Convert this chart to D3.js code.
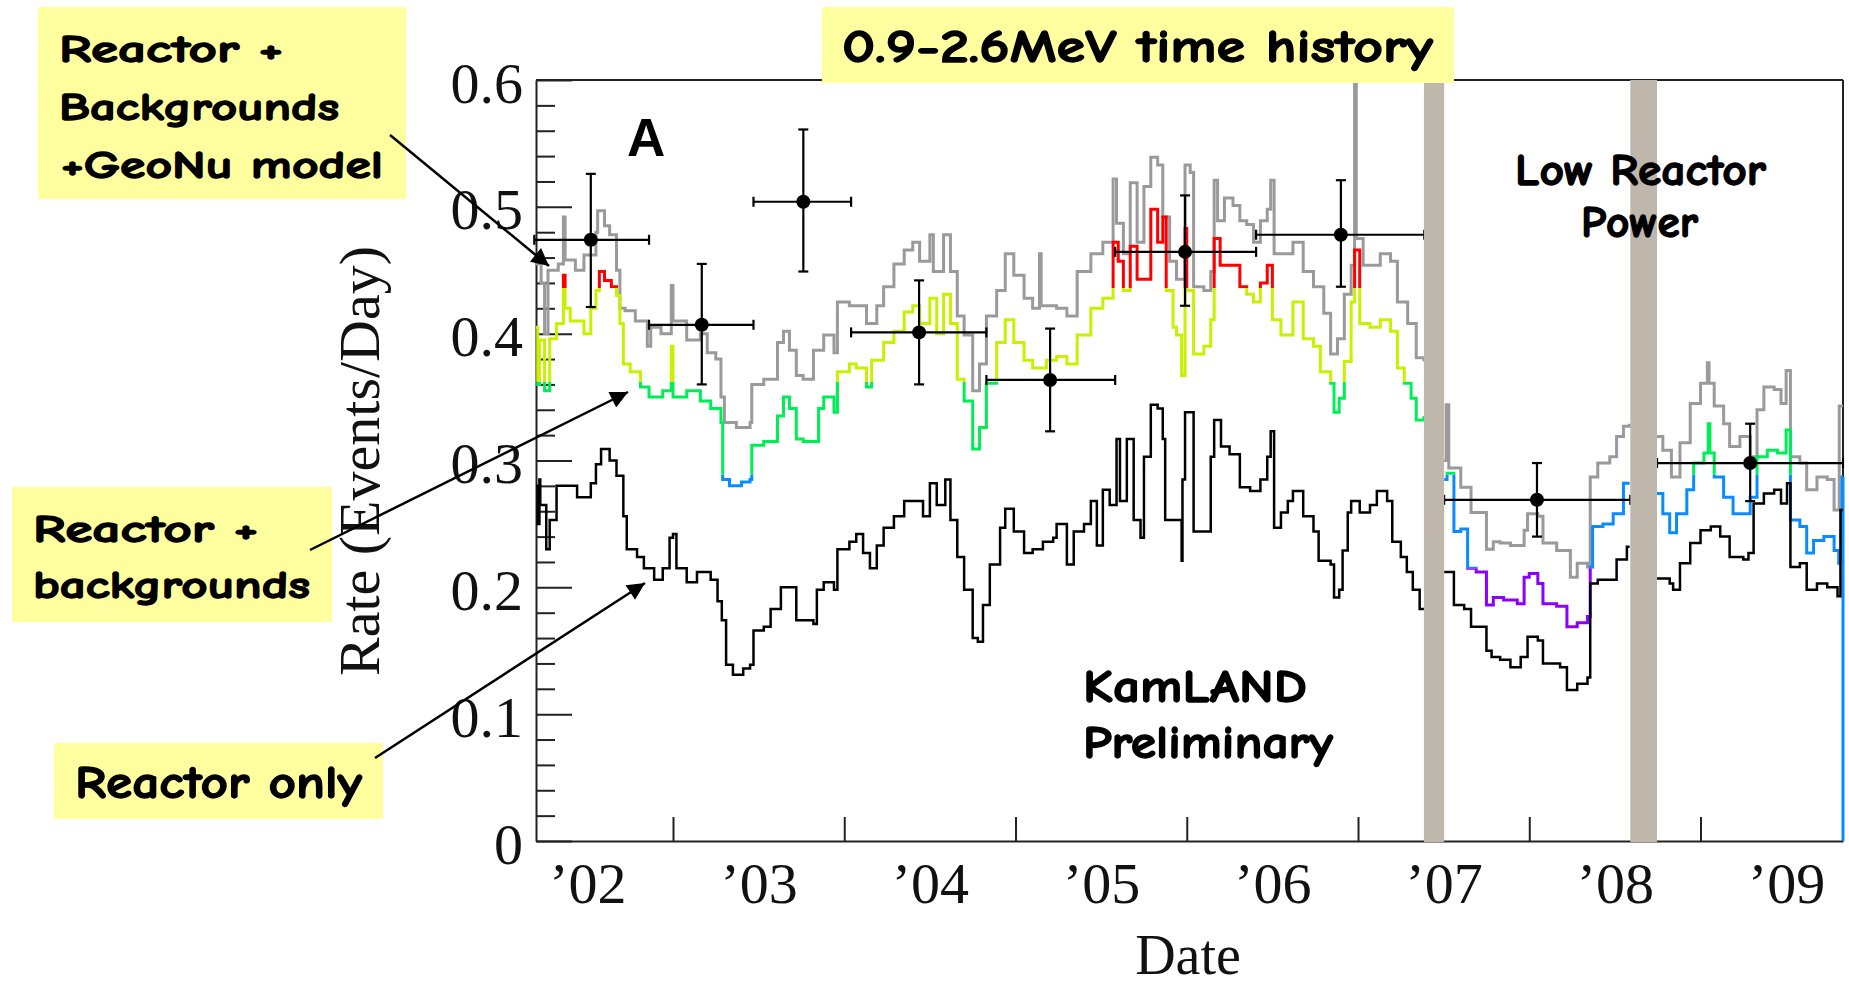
<!DOCTYPE html>
<html>
<head>
<meta charset="utf-8">
<script src="https://cdn.jsdelivr.net/npm/d3@7"></script>
<style>
body { margin:0; background:#fff; }
.comic { font-family:'Comic Sans MS','Comic Neue','DejaVu Sans',sans-serif; font-weight:bold; }
.serif { font-family:'Liberation Serif','Times New Roman',serif; }
</style>
</head>
<body>
<div class="canvas"></div>
<script>
const dims = {'width':1849, 'height':990};
const plot = {'left':536, 'right':1843, 'top':80, 'bottom':841};

// axis values
const yearTicks = [2003, 2004, 2005, 2006, 2007, 2008, 2009];
const yearLabels = [2002.5, 2003.5, 2004.5, 2005.5, 2006.5, 2007.5, 2008.5, 2009.5];
const rateTicks = [0, 0.1, 0.2, 0.3, 0.4, 0.5, 0.6];
const rateMinor = [0.02,0.04,0.06,0.08,0.12,0.14,0.16,0.18,0.22,0.24,0.26,0.28,
                   0.32,0.34,0.36,0.38,0.42,0.44,0.46,0.48,0.52,0.54,0.56,0.58];

// Reactor + backgrounds + GeoNu model (grey)
const geoNu = [
  [2002.20,0.455],[2002.23,0.440],[2002.25,0.400],[2002.27,0.450],[2002.33,0.455],[2002.36,0.492],
  [2002.37,0.458],[2002.43,0.450],[2002.48,0.462],[2002.55,0.480],[2002.56,0.497],[2002.60,0.485],
  [2002.63,0.478],[2002.67,0.450],[2002.69,0.420],[2002.72,0.418],[2002.78,0.410],[2002.85,0.390],
  [2002.87,0.405],[2002.93,0.400],[2002.99,0.438],[2003.00,0.410],[2003.08,0.395],[2003.16,0.400],
  [2003.20,0.385],[2003.25,0.380],[2003.28,0.350],[2003.30,0.330],[2003.37,0.326],[2003.45,0.330],
  [2003.46,0.360],[2003.53,0.364],[2003.61,0.393],[2003.645,0.402],[2003.68,0.387],[2003.72,0.367],
  [2003.76,0.364],[2003.82,0.387],[2003.88,0.399],[2003.94,0.385],[2003.96,0.425],[2004.03,0.422],
  [2004.13,0.408],[2004.19,0.422],[2004.23,0.437],[2004.29,0.455],[2004.35,0.466],[2004.40,0.472],
  [2004.44,0.457],[2004.50,0.478],[2004.52,0.449],[2004.58,0.478],[2004.62,0.449],[2004.66,0.414],
  [2004.70,0.399],[2004.75,0.355],[2004.79,0.376],[2004.83,0.414],[2004.89,0.434],[2004.94,0.463],
  [2004.99,0.446],[2005.05,0.428],[2005.10,0.420],[2005.14,0.463],[2005.15,0.422],[2005.24,0.420],
  [2005.30,0.414],[2005.36,0.449],[2005.44,0.463],[2005.51,0.472],[2005.57,0.522],[2005.59,0.487],
  [2005.63,0.463],[2005.67,0.519],[2005.71,0.472],[2005.75,0.516],[2005.79,0.539],[2005.83,0.533],
  [2005.86,0.492],[2005.90,0.457],[2005.94,0.443],[2005.99,0.533],[2006.02,0.527],[2006.04,0.437],
  [2006.10,0.434],[2006.14,0.449],[2006.16,0.521],[2006.18,0.489],[2006.22,0.507],[2006.27,0.501],
  [2006.31,0.489],[2006.35,0.486],[2006.39,0.472],[2006.43,0.489],[2006.47,0.498],[2006.49,0.521],
  [2006.51,0.463],[2006.57,0.463],[2006.62,0.472],[2006.68,0.449],[2006.74,0.437],[2006.80,0.416],
  [2006.84,0.384],[2006.88,0.396],[2006.92,0.431],[2006.96,0.454],[2006.98,0.597],[2006.99,0.475],
  [2007.03,0.454],[2007.09,0.454],[2007.13,0.463],[2007.19,0.457],[2007.23,0.425],[2007.29,0.408],
  [2007.34,0.381],[2007.385,0.378],[2007.44,null],
  [2007.503,0.300],[2007.515,0.344],[2007.53,0.294],[2007.60,0.279],[2007.66,0.259],[2007.71,0.259],
  [2007.75,0.230],[2007.79,0.236],[2007.83,0.235],[2007.89,0.233],[2007.97,0.245],[2007.99,0.258],
  [2008.05,0.256],[2008.08,0.235],[2008.16,0.229],[2008.24,0.208],[2008.28,0.219],[2008.34,0.216],
  [2008.356,0.287],[2008.40,0.298],[2008.47,0.303],[2008.51,0.319],[2008.55,0.327],[2008.586,0.329],
  [2008.66,null],
  [2008.746,0.319],[2008.78,0.308],[2008.83,0.287],[2008.88,0.314],[2008.94,0.345],[2009.00,0.361],
  [2009.04,0.377],[2009.05,0.361],[2009.08,0.343],[2009.135,0.329],[2009.17,0.311],[2009.23,0.319],
  [2009.29,0.303],[2009.33,0.340],[2009.37,0.358],[2009.43,0.356],[2009.47,0.345],[2009.50,0.371],
  [2009.525,0.303],[2009.58,0.298],[2009.62,0.277],[2009.68,0.287],[2009.74,0.285],[2009.78,0.261],
  [2009.81,0.343],[2009.832,0.343]
];

// Reactor + backgrounds (coloured by rate)
const withBackgrounds = [
  [2002.20,0.405],[2002.21,0.360],[2002.22,0.395],[2002.25,0.355],[2002.28,0.396],[2002.32,0.408],
  [2002.36,0.446],[2002.37,0.420],[2002.40,0.410],[2002.48,0.400],[2002.52,0.420],[2002.55,0.434],
  [2002.57,0.449],[2002.60,0.442],[2002.64,0.437],[2002.67,0.430],[2002.69,0.408],[2002.71,0.376],
  [2002.75,0.370],[2002.81,0.358],[2002.86,0.350],[2002.94,0.355],[2002.99,0.390],[2003.00,0.350],
  [2003.08,0.355],[2003.16,0.347],[2003.22,0.341],[2003.28,0.330],[2003.29,0.285],[2003.33,0.280],
  [2003.40,0.283],[2003.45,0.285],[2003.46,0.312],[2003.53,0.315],[2003.61,0.335],[2003.645,0.350],
  [2003.68,0.341],[2003.72,0.317],[2003.76,0.315],[2003.82,0.315],[2003.85,0.341],[2003.88,0.350],
  [2003.94,0.338],[2003.96,0.370],[2004.03,0.376],[2004.07,0.373],[2004.13,0.358],[2004.16,0.379],
  [2004.23,0.393],[2004.29,0.402],[2004.35,0.417],[2004.40,0.422],[2004.44,0.408],[2004.50,0.428],
  [2004.54,0.400],[2004.58,0.431],[2004.62,0.408],[2004.66,0.364],[2004.70,0.347],[2004.75,0.309],
  [2004.79,0.326],[2004.83,0.361],[2004.89,0.393],[2004.94,0.411],[2004.99,0.393],[2005.05,0.379],
  [2005.10,0.373],[2005.18,0.379],[2005.24,0.382],[2005.30,0.376],[2005.36,0.399],[2005.44,0.420],
  [2005.51,0.428],[2005.57,0.472],[2005.60,0.457],[2005.63,0.434],[2005.67,0.469],[2005.71,0.443],
  [2005.79,0.498],[2005.83,0.472],[2005.86,0.492],[2005.88,0.434],[2005.92,0.405],[2005.94,0.399],
  [2005.97,0.367],[2005.99,0.483],[2006.00,0.434],[2006.04,0.384],[2006.10,0.390],[2006.14,0.411],
  [2006.16,0.475],[2006.195,0.454],[2006.25,0.454],[2006.31,0.437],[2006.35,0.431],[2006.39,0.425],
  [2006.43,0.440],[2006.47,0.454],[2006.50,0.411],[2006.55,0.399],[2006.62,0.425],[2006.68,0.396],
  [2006.74,0.390],[2006.78,0.370],[2006.84,0.361],[2006.86,0.338],[2006.89,0.349],[2006.92,0.378],
  [2006.96,0.425],[2006.98,0.466],[2007.01,0.408],[2007.07,0.405],[2007.13,0.411],[2007.19,0.402],
  [2007.23,0.373],[2007.27,0.361],[2007.31,0.349],[2007.34,0.332],[2007.385,0.335],[2007.44,null],
  [2007.503,0.285],[2007.52,0.290],[2007.56,0.244],[2007.60,0.246],[2007.64,0.215],[2007.69,0.212],
  [2007.75,0.186],[2007.79,0.192],[2007.85,0.190],[2007.93,0.187],[2007.97,0.208],[2008.00,0.211],
  [2008.05,0.203],[2008.08,0.187],[2008.16,0.185],[2008.22,0.169],[2008.28,0.172],[2008.34,0.177],
  [2008.356,0.216],[2008.37,0.248],[2008.43,0.250],[2008.49,0.258],[2008.55,0.282],[2008.586,0.282],
  [2008.66,null],
  [2008.746,0.274],[2008.78,0.258],[2008.82,0.243],[2008.86,0.258],[2008.92,0.277],[2008.96,0.298],
  [2009.02,0.306],[2009.045,0.329],[2009.055,0.306],[2009.08,0.287],[2009.135,0.271],[2009.19,0.258],
  [2009.25,0.258],[2009.29,0.271],[2009.33,0.303],[2009.39,0.308],[2009.45,0.306],[2009.50,0.324],
  [2009.525,0.253],[2009.58,0.248],[2009.62,0.227],[2009.66,0.237],[2009.72,0.240],[2009.78,0.229],
  [2009.807,0.219],[2009.826,0.287],[2009.832,0.287]
];

// Reactor only (black)
const reactorOnly = [
  [2002.20,0.280],[2002.21,0.250],[2002.22,0.285],[2002.225,0.265],[2002.26,0.230],[2002.28,0.253],
  [2002.32,0.280],[2002.40,0.280],[2002.44,0.271],[2002.52,0.282],[2002.55,0.297],[2002.58,0.309],
  [2002.63,0.300],[2002.67,0.288],[2002.71,0.256],[2002.73,0.230],[2002.79,0.224],[2002.83,0.215],
  [2002.89,0.206],[2002.94,0.215],[2002.98,0.239],[2003.00,0.242],[2003.02,0.215],[2003.08,0.204],
  [2003.14,0.212],[2003.22,0.206],[2003.26,0.189],[2003.285,0.174],[2003.31,0.139],[2003.35,0.131],
  [2003.41,0.136],[2003.45,0.139],[2003.47,0.166],[2003.53,0.169],[2003.57,0.183],[2003.63,0.200],
  [2003.67,0.200],[2003.72,0.174],[2003.82,0.171],[2003.84,0.198],[2003.88,0.204],[2003.94,0.198],
  [2003.96,0.230],[2004.03,0.236],[2004.07,0.242],[2004.11,0.227],[2004.15,0.215],[2004.19,0.233],
  [2004.23,0.247],[2004.29,0.256],[2004.35,0.268],[2004.40,0.268],[2004.46,0.256],[2004.50,0.282],
  [2004.54,0.265],[2004.59,0.285],[2004.62,0.253],[2004.66,0.224],[2004.70,0.198],[2004.75,0.160],
  [2004.78,0.157],[2004.81,0.186],[2004.85,0.218],[2004.91,0.247],[2004.94,0.262],[2004.99,0.244],
  [2005.05,0.227],[2005.10,0.230],[2005.16,0.236],[2005.22,0.239],[2005.24,0.250],[2005.30,0.218],
  [2005.34,0.244],[2005.40,0.250],[2005.44,0.268],[2005.475,0.233],[2005.51,0.277],[2005.55,0.265],
  [2005.59,0.317],[2005.61,0.268],[2005.65,0.317],[2005.69,0.253],[2005.73,0.239],[2005.75,0.303],
  [2005.79,0.344],[2005.83,0.341],[2005.86,0.317],[2005.874,0.253],[2005.93,0.253],[2005.96,0.253],
  [2005.97,0.221],[2005.975,0.285],[2005.99,0.338],[2006.03,0.338],[2006.04,0.244],[2006.13,0.244],
  [2006.14,0.303],[2006.16,0.332],[2006.20,0.311],[2006.25,0.305],[2006.31,0.279],[2006.37,0.276],
  [2006.43,0.285],[2006.47,0.303],[2006.49,0.323],[2006.51,0.247],[2006.55,0.259],[2006.59,0.268],
  [2006.62,0.276],[2006.68,0.256],[2006.74,0.244],[2006.77,0.221],[2006.84,0.218],[2006.86,0.192],
  [2006.89,0.198],[2006.91,0.229],[2006.94,0.259],[2006.96,0.268],[2007.01,0.259],[2007.07,0.265],
  [2007.11,0.276],[2007.17,0.268],[2007.20,0.236],[2007.25,0.224],[2007.285,0.212],[2007.32,0.198],
  [2007.36,0.183],[2007.385,0.183],[2007.44,null],
  [2007.503,0.212],[2007.52,0.212],[2007.56,0.186],[2007.62,0.183],[2007.66,0.169],[2007.72,0.169],
  [2007.75,0.150],[2007.78,0.145],[2007.83,0.143],[2007.89,0.137],[2007.95,0.145],[2007.99,0.161],
  [2008.05,0.158],[2008.08,0.140],[2008.18,0.137],[2008.22,0.119],[2008.28,0.124],[2008.34,0.129],
  [2008.356,0.203],[2008.40,0.206],[2008.47,0.206],[2008.51,0.222],[2008.57,0.232],[2008.586,0.232],
  [2008.66,null],
  [2008.746,0.207],[2008.82,0.203],[2008.84,0.198],[2008.88,0.219],[2008.94,0.235],[2009.00,0.245],
  [2009.06,0.248],[2009.115,0.240],[2009.17,0.224],[2009.25,0.222],[2009.28,0.227],[2009.31,0.266],
  [2009.37,0.274],[2009.43,0.277],[2009.47,0.266],[2009.505,0.282],[2009.525,0.216],[2009.58,0.219],
  [2009.62,0.198],[2009.68,0.203],[2009.74,0.200],[2009.80,0.193],[2009.817,0.261],[2009.832,0.261]
];

// measured points
const pointYear = [2002.52, 2003.168, 2003.761, 2004.437, 2005.202, 2005.99, 2006.90, 2008.045, 2009.29];
const pointRate = [0.474, 0.407, 0.504, 0.401, 0.3635, 0.4645, 0.478, 0.269, 0.298];
const errLow    = [0.421, 0.360, 0.449, 0.360, 0.323, 0.422, 0.437, 0.240, 0.268];
const errHigh   = [0.526, 0.455, 0.561, 0.442, 0.404, 0.509, 0.521, 0.298, 0.329];
const binStart  = [2002.19, 2002.86, 2003.47, 2004.04, 2004.83, 2005.582, 2006.405, 2007.503, 2008.746];
const binEnd    = [2002.86, 2003.47, 2004.04, 2004.83, 2005.582, 2006.405, 2007.387, 2008.59, 2009.832];

// reactor shutdown bands
const shutStart = [2007.385, 2008.59];
const shutEnd   = [2007.503, 2008.746];

// colour bands for the reactor + backgrounds curve
const bandLow    = [-1, 0.215, 0.289, 0.362, 0.436];
const bandHigh   = [0.215, 0.289, 0.362, 0.436, 1];
const bandColour = ['#8c00ff', '#0a8cff', '#00ee55', '#c8f000', '#ff0000'];

const svg = d3.select('.canvas')
  .append('svg')
  .attr('width', dims.width)
  .attr('height', dims.height);

const x = d3.scaleLinear().domain([2002.2, 2009.832]).range([plot.left, plot.right]);
const y = d3.scaleLinear().domain([0, 0.6]).range([plot.bottom, plot.top]);

// axes
const yMinor = svg.append('g').attr('transform', `translate(${plot.left},0)`)
  .call(d3.axisLeft(y).tickValues(rateMinor).tickSize(-19).tickFormat(''));
yMinor.select('.domain').remove();
yMinor.selectAll('line').attr('stroke', '#222').attr('stroke-width', 2);

const yAxis = svg.append('g').attr('transform', `translate(${plot.left},0)`)
  .call(d3.axisLeft(y).tickValues(rateTicks).tickSizeInner(-36).tickSizeOuter(0).tickPadding(13)
    .tickFormat(d => d === 0 ? '0' : d3.format('.1f')(d)));
yAxis.selectAll('line').attr('stroke', '#222').attr('stroke-width', 2);
yAxis.select('.domain').attr('stroke', '#222').attr('stroke-width', 2);
yAxis.selectAll('text').attr('class', 'serif').attr('font-size', 58).attr('fill', '#111').attr('dy', '0.38em');

const xAxis = svg.append('g').attr('transform', `translate(0,${plot.bottom})`)
  .call(d3.axisBottom(x).tickValues(yearTicks).tickSizeInner(-24).tickSizeOuter(0).tickFormat(''));
xAxis.selectAll('line').attr('stroke', '#222').attr('stroke-width', 2);
xAxis.select('.domain').attr('stroke', '#222').attr('stroke-width', 2);

const xLabels = svg.append('g').attr('transform', `translate(0,${plot.bottom})`)
  .call(d3.axisBottom(x).tickValues(yearLabels).tickSize(0).tickPadding(21)
    .tickFormat(d => '\u2019' + String(Math.floor(d)).slice(2)));
xLabels.select('.domain').remove();
xLabels.selectAll('text').attr('class', 'serif').attr('font-size', 58).attr('fill', '#111');

// frame top and right
svg.append('line').attr('x1', plot.left).attr('x2', plot.right).attr('y1', plot.top).attr('y2', plot.top)
  .attr('stroke', '#222').attr('stroke-width', 2);
svg.append('line').attr('x1', plot.right).attr('x2', plot.right).attr('y1', plot.top).attr('y2', plot.bottom)
  .attr('stroke', '#222').attr('stroke-width', 2);

svg.append('text').attr('class', 'serif').attr('font-size', 56).attr('fill', '#111')
  .attr('text-anchor', 'middle').attr('x', 1188).attr('y', 974).text('Date');
svg.append('text').attr('class', 'serif').attr('font-size', 58).attr('fill', '#111')
  .attr('text-anchor', 'middle').attr('transform', 'translate(379,461) rotate(-90)')
  .text('Rate (Events/Day)');

// curves
const line = d3.line()
  .defined(d => d[1] !== null)
  .curve(d3.curveStepAfter)
  .x(d => x(d[0]))
  .y(d => y(d[1]));

svg.append('path').attr('d', line(geoNu)).attr('fill', 'none')
  .attr('stroke', '#9a9a9a').attr('stroke-width', 3);

const defs = svg.append('defs');
bandColour.forEach((c, i) => {
  defs.append('clipPath').attr('id', 'band' + i)
    .append('rect')
    .attr('x', plot.left - 5).attr('width', plot.right - plot.left + 10)
    .attr('y', y(bandHigh[i])).attr('height', y(bandLow[i]) - y(bandHigh[i]));
  svg.append('path').attr('d', line(withBackgrounds)).attr('fill', 'none')
    .attr('clip-path', `url(#band${i})`)
    .attr('stroke', c).attr('stroke-width', 3);
});
// final drop of the coloured curve at the end of the data
const last = withBackgrounds[withBackgrounds.length - 1];
const lastBand = bandLow.findIndex((lo, i) => last[1] >= lo && last[1] < bandHigh[i]);
svg.append('line').attr('x1', x(last[0])).attr('x2', x(last[0]))
  .attr('y1', y(last[1])).attr('y2', y(0))
  .attr('stroke', bandColour[lastBand]).attr('stroke-width', 3);

svg.append('path').attr('d', line(reactorOnly)).attr('fill', 'none')
  .attr('stroke', '#000').attr('stroke-width', 2.5);

// data points with error bars
const pts = svg.append('g').selectAll('g').data(pointYear).enter().append('g');
pts.append('line').attr('x1', (d, i) => x(binStart[i])).attr('x2', (d, i) => x(binEnd[i]))
  .attr('y1', (d, i) => y(pointRate[i])).attr('y2', (d, i) => y(pointRate[i]));
pts.append('line').attr('x1', (d, i) => x(binStart[i])).attr('x2', (d, i) => x(binStart[i]))
  .attr('y1', (d, i) => y(pointRate[i]) - 5).attr('y2', (d, i) => y(pointRate[i]) + 5);
pts.append('line').attr('x1', (d, i) => x(binEnd[i])).attr('x2', (d, i) => x(binEnd[i]))
  .attr('y1', (d, i) => y(pointRate[i]) - 5).attr('y2', (d, i) => y(pointRate[i]) + 5);
pts.append('line').attr('x1', d => x(d)).attr('x2', d => x(d))
  .attr('y1', (d, i) => y(errLow[i])).attr('y2', (d, i) => y(errHigh[i]));
pts.append('line').attr('x1', d => x(d) - 5).attr('x2', d => x(d) + 5)
  .attr('y1', (d, i) => y(errLow[i])).attr('y2', (d, i) => y(errLow[i]));
pts.append('line').attr('x1', d => x(d) - 5).attr('x2', d => x(d) + 5)
  .attr('y1', (d, i) => y(errHigh[i])).attr('y2', (d, i) => y(errHigh[i]));
pts.selectAll('line').attr('stroke', '#000').attr('stroke-width', 2.2);
pts.append('circle').attr('cx', d => x(d)).attr('cy', (d, i) => y(pointRate[i])).attr('r', 7).attr('fill', '#000');

// shutdown bands
svg.append('g').selectAll('rect').data(shutStart).enter().append('rect')
  .attr('x', d => x(d)).attr('width', (d, i) => x(shutEnd[i]) - x(d))
  .attr('y', plot.top).attr('height', plot.bottom - plot.top + 1)
  .attr('fill', '#bfb6ac');

// labels
svg.append('text').attr('x', 627).attr('y', 156).attr('font-size', 53)
  .attr('font-family', "'Liberation Sans', Arial, sans-serif").attr('font-weight', 'bold').text('A');

const comicText = (txt, tx, ty, len, size) =>
  svg.append('text').attr('class', 'comic').attr('x', tx).attr('y', ty)
    .attr('font-size', size).attr('textLength', len).attr('lengthAdjust', 'spacingAndGlyphs')
    .attr('fill', '#000').attr('stroke', '#000').attr('stroke-width', 1.3)
    .text(txt);

comicText('Low Reactor', 1515, 185, 251, 44);
comicText('Power', 1581, 237, 117, 44);
comicText('KamLAND', 1083, 702, 224, 46);
comicText('Preliminary', 1083, 758, 250, 46);

// yellow boxes
const box = (bx, by, bw, bh) => svg.append('rect').attr('x', bx).attr('y', by)
  .attr('width', bw).attr('height', bh).attr('fill', '#ffffa0');

box(822, 7, 632, 76);
comicText('0.9-2.6MeV time history', 842, 62, 591, 46);

box(38, 7, 368, 192);
comicText('Reactor +', 59, 62, 224, 39);
comicText('Backgrounds', 59, 120, 280, 39);
comicText('+GeoNu model', 61, 178, 322, 39);

box(12, 487, 320, 135);
comicText('Reactor +', 33, 542, 225, 39);
comicText('backgrounds', 33, 598, 277, 39);

box(54, 743, 329, 76);
comicText('Reactor only', 75, 798, 287, 46);

// arrows
defs.append('marker').attr('id', 'head').attr('viewBox', '0 0 10 10')
  .attr('refX', 10).attr('refY', 5).attr('markerWidth', 9).attr('markerHeight', 7)
  .attr('markerUnits', 'strokeWidth').attr('orient', 'auto')
  .append('path').attr('d', 'M0,0 L10,5 L0,10 z').attr('fill', '#000');

const arrow = (x1, y1, x2, y2) => svg.append('line')
  .attr('x1', x1).attr('y1', y1).attr('x2', x2).attr('y2', y2)
  .attr('stroke', '#000').attr('stroke-width', 2.5).attr('marker-end', 'url(#head)');

arrow(390, 135, 549, 266);
arrow(310, 550, 628, 392);
arrow(375, 758, 645, 583);
</script>
</body>
</html>
